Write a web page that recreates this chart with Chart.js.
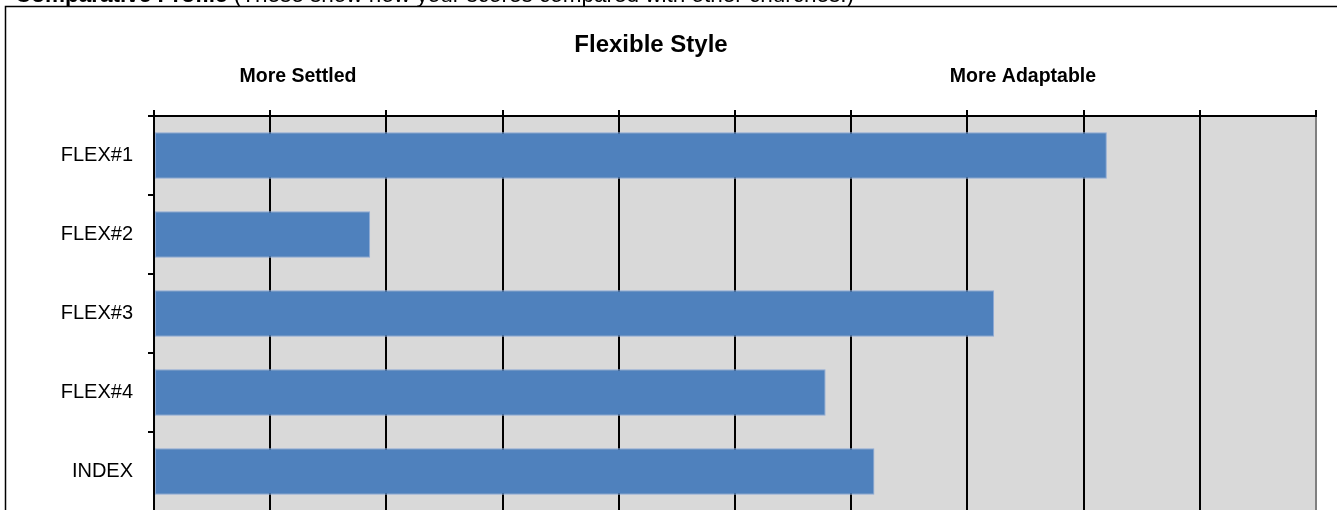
<!DOCTYPE html>
<html>
<head>
<meta charset="utf-8">
<script src="https://cdn.jsdelivr.net/npm/chart.js@4.4.1/dist/chart.umd.min.js"></script>
<style>
  html, body { margin: 0; padding: 0; background: #fff; overflow: hidden; }
  #chart { display: block; }
</style>
</head>
<body>
<canvas id="chart" width="1337" height="530"></canvas>
<script>
// chart data
const categories = ["FLEX#1", "FLEX#2", "FLEX#3", "FLEX#4", "INDEX"];
const scores = [8.2, 1.86, 7.23, 5.78, 6.2];
const scaleMin = 0;
const scaleMax = 10;
const scaleStep = 1;

const caption = ["Comparative Profile", " (These show how your scores compared with other churches.)"];
const chartTitle = "Flexible Style";
const sideLabels = ["More Settled", "More Adaptable"];

const FONT = '"Liberation Sans", Arial, sans-serif';

// background, frame and the header texts
const decorations = {
  id: "decorations",
  beforeDraw(chart) {
    const ctx = chart.ctx;
    const area = chart.chartArea;
    ctx.save();

    ctx.fillStyle = "#d9d9d9";
    ctx.fillRect(area.left, area.top, area.right - area.left, area.bottom - area.top);

    // caption line above the chart box (mostly cut off)
    ctx.fillStyle = "#000";
    ctx.textBaseline = "alphabetic";
    ctx.textAlign = "left";
    ctx.font = "bold 22.5px " + FONT;
    ctx.fillText(caption[0], 15, 2);
    const w = ctx.measureText(caption[0]).width;
    ctx.font = "22.5px " + FONT;
    ctx.fillText(caption[1], 15 + w, 2);

    // chart box
    ctx.strokeStyle = "#000";
    ctx.lineWidth = 1.5;
    ctx.strokeRect(5.5, 6.5, 1400, 600);

    // title + side labels
    ctx.textAlign = "center";
    ctx.font = "bold 24px " + FONT;
    ctx.fillText(chartTitle, 651, 52);
    ctx.font = "bold 19.5px " + FONT;
    ctx.fillText(sideLabels[0], 298, 82);
    ctx.fillText(sideLabels[1], 1023, 82);

    ctx.restore();
  }
};

new Chart(document.getElementById("chart"), {
  type: "bar",
  data: {
    labels: categories,
    datasets: [{
      data: scores,
      backgroundColor: "#4f81bd",
      borderColor: "#8eaad6",
      borderWidth: 1,
      borderSkipped: false,
      barPercentage: 0.59,
      categoryPercentage: 1
    }]
  },
  options: {
    indexAxis: "y",
    responsive: false,
    animation: false,
    layout: { padding: { left: 0, right: 21, top: 0, bottom: 19 } },
    plugins: {
      legend: { display: false },
      title: { display: false },
      tooltip: { enabled: false }
    },
    scales: {
      x: {
        position: "top",
        min: scaleMin,
        max: scaleMax,
        ticks: { display: false, stepSize: scaleStep },
        grid: {
          color: (c) => (c.tick && c.tick.value === scaleMax ? "#808080" : "#000"),
          tickColor: "#000",
          lineWidth: 2,
          tickLength: 6
        },
        border: { color: "#000", width: 2 },
        afterFit: (s) => { s.height = 116; }
      },
      y: {
        position: "left",
        ticks: {
          color: "#000",
          padding: 15,
          font: { family: FONT, size: 20 }
        },
        grid: {
          offset: true,
          drawOnChartArea: false,
          tickColor: "#000",
          lineWidth: 2,
          tickLength: 6
        },
        border: { color: "#000", width: 2 },
        afterFit: (s) => {
          s.width = 154;
          s.paddingTop = 0;
          s.paddingBottom = 0;
        }
      }
    }
  },
  plugins: [decorations]
});
</script>
</body>
</html>
